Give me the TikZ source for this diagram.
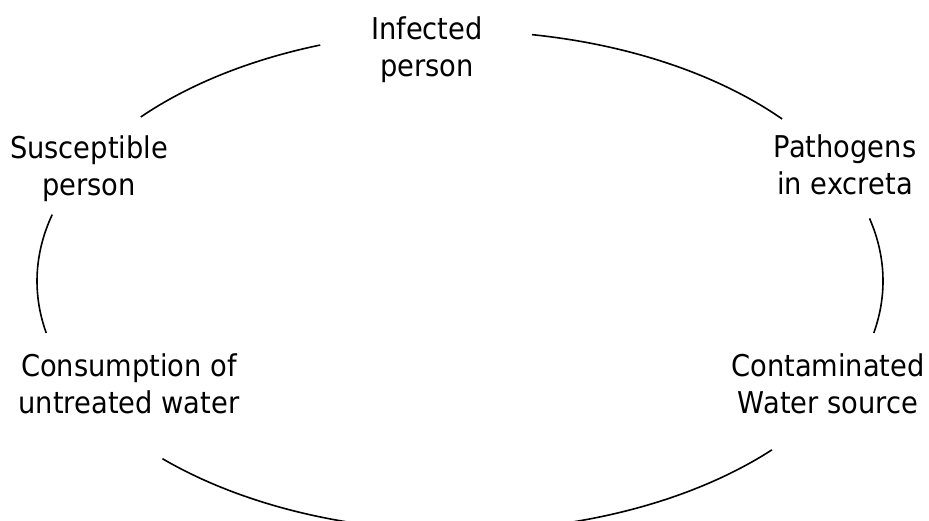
\documentclass[tikz,border=0pt]{standalone}
\usepackage{fontspec}
\setmainfont{DejaVu Sans}[FakeStretch=0.91]
\usepackage{tikz}

\begin{document}
\begin{tikzpicture}[
  x=0.5pt, y=0.5pt,
  lbl/.style={align=center, inner sep=0pt, font=\fontsize{15}{18.5}\selectfont},
  loop/.style={line width=0.8pt}
]
\useasboundingbox (0,0) rectangle (929,520);
\clip (0,0) rectangle (929,520);
% Ellipse that the arcs run on: radii 211.5pt and 125pt
\def\rx{211.5pt}
\def\ry{125pt}
\coordinate (ctr) at (460,239);

% Labels
\node[lbl] (infected) at (427,470) {Infected\\person};
\node[lbl] (susceptible) at (89,351) {Susceptible\\person};
\node[lbl] (pathogens) at (845,355) {Pathogens\\in excreta};
\node[lbl] (consumption) at (129,136) {Consumption of\\untreated water};
\node[lbl] (contaminated) at (828,136) {Contaminated\\Water source};

% Arc end points
\path (ctr) ++(109.3:211.5pt and 125pt) coordinate (inf-w);
\path (ctr) ++(80.2:211.5pt and 125pt) coordinate (inf-e);
\path (ctr) ++(139:211.5pt and 125pt) coordinate (sus-n);
\path (ctr) ++(164.6:211.5pt and 125pt) coordinate (sus-s);
\path (ctr) ++(40.4:211.5pt and 125pt) coordinate (pat-n);
\path (ctr) ++(14.5:211.5pt and 125pt) coordinate (pat-s);
\path (ctr) ++(192:211.5pt and 125pt) coordinate (con-n);
\path (ctr) ++(225.3:211.5pt and 125pt) coordinate (con-s);
\path (ctr) ++(-12:211.5pt and 125pt) coordinate (cnt-n);
\path (ctr) ++(-42.5:211.5pt and 125pt) coordinate (cnt-s);

% Cycle
\draw[loop] (inf-e) arc[start angle=80.2, end angle=40.4, x radius=\rx, y radius=\ry];
\draw[loop] (pat-s) arc[start angle=14.5, end angle=-12, x radius=\rx, y radius=\ry];
\draw[loop] (cnt-s) arc[start angle=-42.5, end angle=-134.7, x radius=\rx, y radius=\ry];
\draw[loop] (con-n) arc[start angle=192, end angle=164.6, x radius=\rx, y radius=\ry];
\draw[loop] (sus-n) arc[start angle=139, end angle=109.3, x radius=\rx, y radius=\ry];
\end{tikzpicture}
\end{document}
